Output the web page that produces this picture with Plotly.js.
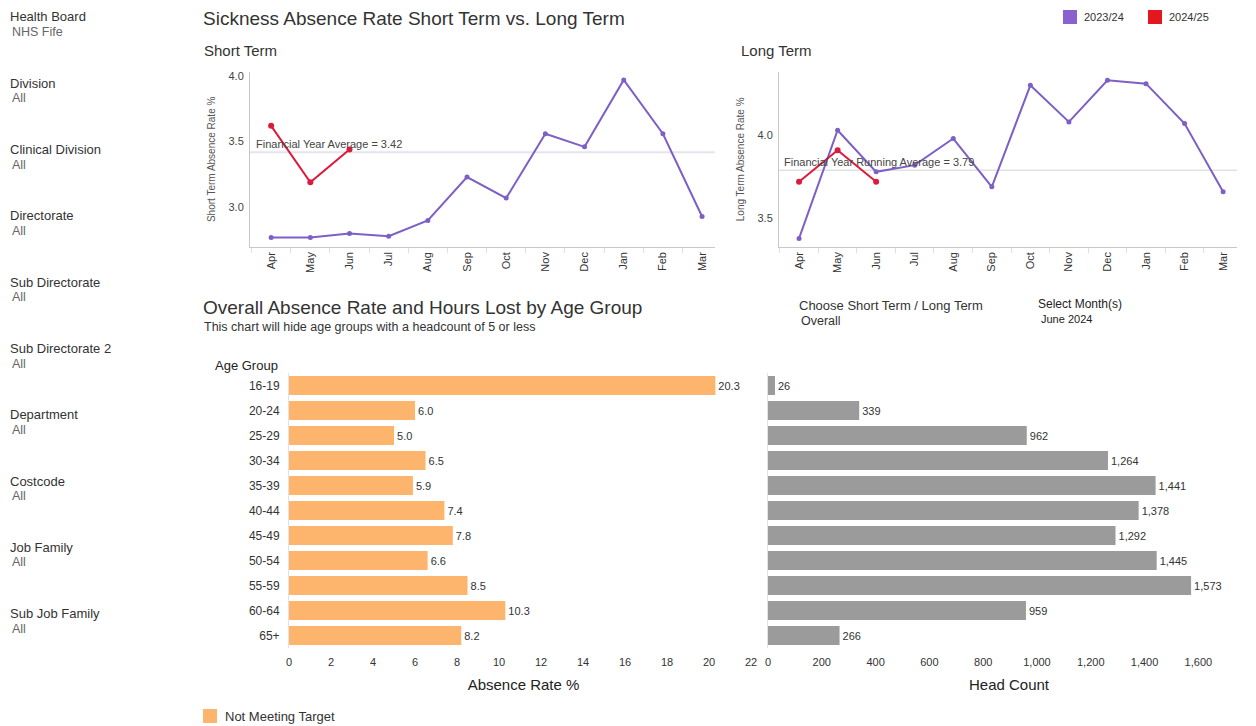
<!DOCTYPE html>
<html>
<head>
<meta charset="utf-8">
<script src="https://cdn.plot.ly/plotly-3.0.1.min.js"></script>
<style>
  html, body { margin: 0; padding: 0; background: #fff; }
  #chart { width: 1256px; height: 726px; }
</style>
</head>
<body>
<div id="chart"></div>
<script>
// ---------- DATA ----------
const months = ["Apr","May","Jun","Jul","Aug","Sep","Oct","Nov","Dec","Jan","Feb","Mar"];
const shortTerm2324 = [2.77, 2.77, 2.80, 2.78, 2.90, 3.23, 3.07, 3.56, 3.46, 3.97, 3.56, 2.93];
const shortTerm2425 = [3.62, 3.19, 3.44];
const longTerm2324 = [3.38, 4.03, 3.78, 3.82, 3.98, 3.69, 4.30, 4.08, 4.33, 4.31, 4.07, 3.66];
const longTerm2425 = [3.72, 3.91, 3.72];
const shortTermAvg = 3.42;
const longTermAvg = 3.79;
const seriesNames = ["2023/24", "2024/25"];

const ageGroups = ["16-19","20-24","25-29","30-34","35-39","40-44","45-49","50-54","55-59","60-64","65+"];
const absenceRate = [20.3, 6.0, 5.0, 6.5, 5.9, 7.4, 7.8, 6.6, 8.5, 10.3, 8.2];
const headCount = [26, 339, 962, 1264, 1441, 1378, 1292, 1445, 1573, 959, 266];

const filterLabels = ["Health Board","Division","Clinical Division","Directorate","Sub Directorate",
  "Sub Directorate 2","Department","Costcode","Job Family","Sub Job Family"];
const filterValues = ["NHS Fife","All","All","All","All","All","All","All","All","All"];

// ---------- STYLE ----------
const W = 1256, H = 726;
const FONT = "Liberation Sans, Arial, sans-serif";
const PURPLE = "#7d5fc6";
const RED = "#dc1a3c";
const ORANGE = "#fdb46c";
const GREY = "#9b9b9b";
const px = x => x / W;
const py = y => 1 - y / H;

const traces = [
  {x: months, y: shortTerm2324, xaxis: "x", yaxis: "y", type: "scatter", mode: "lines+markers",
   name: seriesNames[0], line: {color: PURPLE, width: 2}, marker: {color: PURPLE, size: 5}, showlegend: false},
  {x: months.slice(0, shortTerm2425.length), y: shortTerm2425, xaxis: "x", yaxis: "y", type: "scatter", mode: "lines+markers",
   name: seriesNames[1], line: {color: RED, width: 2}, marker: {color: RED, size: 6}, showlegend: false},
  {x: months, y: longTerm2324, xaxis: "x2", yaxis: "y2", type: "scatter", mode: "lines+markers",
   name: seriesNames[0], line: {color: PURPLE, width: 2}, marker: {color: PURPLE, size: 5}, showlegend: false},
  {x: months.slice(0, longTerm2425.length), y: longTerm2425, xaxis: "x2", yaxis: "y2", type: "scatter", mode: "lines+markers",
   name: seriesNames[1], line: {color: RED, width: 2}, marker: {color: RED, size: 6}, showlegend: false},
  {y: ageGroups, x: absenceRate, xaxis: "x3", yaxis: "y3", type: "bar", orientation: "h",
   marker: {color: ORANGE}, width: 0.76, text: absenceRate.map(v => v.toFixed(1)),
   textposition: "outside", cliponaxis: false, textfont: {size: 11, color: "#333", family: FONT}, showlegend: false},
  {y: ageGroups, x: headCount, xaxis: "x4", yaxis: "y4", type: "bar", orientation: "h",
   marker: {color: GREY}, width: 0.76, texttemplate: "%{x:,}",
   textposition: "outside", cliponaxis: false, textfont: {size: 11, color: "#333", family: FONT}, showlegend: false}
];

const lineX = (domain, range, anchor) => ({
  domain, range, anchor, type: "category", categoryorder: "array", categoryarray: months,
  tickangle: -90, tickfont: {size: 11, color: "#333"}, showline: true, linecolor: "#c8c8c8",
  ticks: "outside", tickson: "boundaries", ticklen: 5, tickcolor: "#e0e0e0",
  showgrid: false, zeroline: false, fixedrange: true
});
const lineY = (domain, range, anchor, title) => ({
  domain, range, anchor, dtick: 0.5, tickformat: ".1f", tickfont: {size: 11, color: "#444"},
  showline: true, linecolor: "#c8c8c8", showgrid: false, zeroline: false,
  ticks: "outside", ticklen: 3, tickcolor: "rgba(0,0,0,0)",
  title: {text: title, font: {size: 10, color: "#555"}, standoff: 10}
});

const barCats = {type: "category", categoryorder: "array", categoryarray: ageGroups.slice().reverse()};

const layout = {
  width: W, height: H, margin: {l: 0, r: 0, t: 0, b: 0},
  paper_bgcolor: "#fff", plot_bgcolor: "#fff",
  font: {family: FONT, color: "#333"},
  showlegend: false, separators: ".,",
  xaxis: lineX([px(250), px(715)], [-0.54, 11.33], "y"),
  yaxis: lineY([py(246.7), py(72)], [2.70, 4.03], "x", "Short Term Absence Rate %"),
  xaxis2: lineX([px(779), px(1237)], [-0.52, 11.36], "y2"),
  yaxis2: lineY([py(246.7), py(72)], [3.33, 4.38], "x2", "Long Term Absence Rate %"),
  xaxis3: {domain: [px(289), px(758)], range: [0, 22.33], dtick: 2, anchor: "y3",
    tickfont: {size: 11, color: "#333"}, showgrid: false, zeroline: false, showline: false,
    ticks: "outside", ticklen: 4, tickcolor: "rgba(0,0,0,0)",
    title: {text: "Absence Rate %", font: {size: 15, color: "#222"}, standoff: 12}},
  yaxis3: Object.assign({domain: [py(648), py(373)], anchor: "x3",
    tickfont: {size: 12, color: "#333"}, showline: true, linecolor: "#e2e2e2", ticks: "outside",
    ticklen: 6, tickcolor: "rgba(0,0,0,0)"}, barCats),
  xaxis4: {domain: [px(768), px(1250)], range: [0, 1792], dtick: 200, tickformat: ",d", anchor: "y4",
    tickfont: {size: 11, color: "#333"}, showgrid: false, zeroline: false, showline: false,
    ticks: "outside", ticklen: 4, tickcolor: "rgba(0,0,0,0)",
    title: {text: "Head Count", font: {size: 15, color: "#222"}, standoff: 12}},
  yaxis4: Object.assign({domain: [py(648), py(373)], anchor: "x4", showticklabels: false,
    showline: true, linecolor: "#e2e2e2"}, barCats),
  shapes: [
    {type: "line", xref: "x domain", yref: "y", x0: 0, x1: 1, y0: shortTermAvg, y1: shortTermAvg,
     line: {color: "#e4e4ec", width: 2}, layer: "below"},
    {type: "line", xref: "x2 domain", yref: "y2", x0: 0, x1: 1, y0: longTermAvg, y1: longTermAvg,
     line: {color: "#d2d2d2", width: 1}, layer: "below"},
    // legend swatches
    {type: "rect", xref: "paper", yref: "paper", x0: px(1063), x1: px(1077), y0: py(24), y1: py(10),
     fillcolor: "#8a62d0", line: {width: 0}},
    {type: "rect", xref: "paper", yref: "paper", x0: px(1148), x1: px(1162), y0: py(24), y1: py(10),
     fillcolor: "#e3171e", line: {width: 0}},
    {type: "rect", xref: "paper", yref: "paper", x0: px(203), x1: px(217), y0: py(723), y1: py(709),
     fillcolor: ORANGE, line: {width: 0}}
  ],
  annotations: []
};

const ann = (text, x, y, size, color, extra) => Object.assign({
  text, x: px(x), y: py(y), xref: "paper", yref: "paper", xanchor: "left", yanchor: "middle",
  showarrow: false, font: {size, color, family: FONT}
}, extra || {});

layout.annotations.push(
  ann("Sickness Absence Rate Short Term vs. Long Term", 201, 18, 19, "#333"),
  ann("Short Term", 202, 51, 15, "#333"),
  ann("Long Term", 739, 51, 15, "#333"),
  ann(seriesNames[0], 1082, 17, 11, "#333"),
  ann(seriesNames[1], 1167, 17, 11, "#333"),
  ann("Overall Absence Rate and Hours Lost by Age Group", 201, 307, 19, "#333"),
  ann("This chart will hide age groups with a headcount of 5 or less", 202, 327, 12.5, "#333"),
  ann("Choose Short Term / Long Term", 797, 305, 13, "#333"),
  ann("Overall", 799, 321, 12.5, "#333"),
  ann("Select Month(s)", 1036, 304, 12, "#222"),
  ann("June 2024", 1039, 319, 11, "#222"),
  ann("Age Group", 280, 365, 13, "#222", {xanchor: "right"}),
  ann("Not Meeting Target", 223, 716, 13, "#333"),
  {text: "Financial Year Average = 3.42", x: 0.009, y: shortTermAvg, xref: "x domain", yref: "y",
   xanchor: "left", yanchor: "bottom", showarrow: false, font: {size: 11, color: "#444", family: FONT}},
  {text: "Financial Year Running Average = 3.79", x: 0.006, y: longTermAvg, xref: "x2 domain", yref: "y2",
   xanchor: "left", yanchor: "bottom", showarrow: false, font: {size: 11, color: "#444", family: FONT}}
);

filterLabels.forEach((lab, i) => {
  const y0 = 17 + i * 66.3;
  layout.annotations.push(ann(lab, 8, y0, 13, "#333"));
  layout.annotations.push(ann(filterValues[i], 10, y0 + 15, 12.5, "#666"));
});

Plotly.newPlot("chart", traces, layout, {displayModeBar: false, staticPlot: true});
</script>
</body>
</html>
